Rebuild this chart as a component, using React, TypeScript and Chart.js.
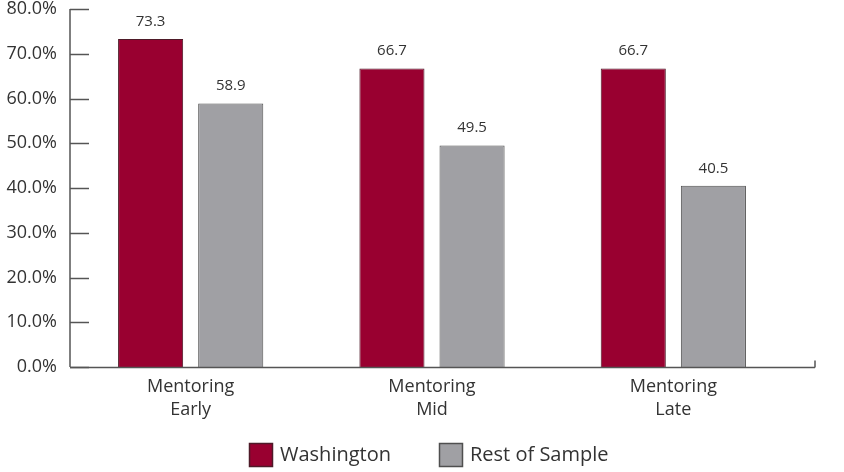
import React, { useEffect, useRef } from "react";
import { Chart, registerables } from "chart.js";

Chart.register(...registerables);

const categories: string[][] = [
  ["Mentoring", "Early"],
  ["Mentoring", "Mid"],
  ["Mentoring", "Late"],
];
const washington: number[] = [73.3, 66.7, 66.7];
const restOfSample: number[] = [58.9, 49.5, 40.5];
const seriesNames: string[] = ["Washington", "Rest of Sample"];

const FONT = "'Open Sans', 'DejaVu Sans', sans-serif";
const TEXT = "#333333";
const AXIS = "#555555";

// Axis lines with inward tick marks, value labels and a bottom legend.
const decorations = {
  id: "decorations",
  afterDatasetsDraw(chart: any) {
    const { ctx, chartArea } = chart;
    const y = chart.scales.y;
    ctx.save();
    ctx.strokeStyle = AXIS;
    ctx.lineWidth = 1.5;
    // y axis
    ctx.beginPath();
    ctx.moveTo(chartArea.left, y.getPixelForValue(80));
    ctx.lineTo(chartArea.left, chartArea.bottom);
    ctx.stroke();
    // y ticks pointing into the plot
    y.ticks.forEach((t: any) => {
      const py = Math.round(y.getPixelForValue(t.value)) + 0.5;
      ctx.beginPath();
      ctx.moveTo(chartArea.left, py);
      ctx.lineTo(chartArea.left + 19, py);
      ctx.stroke();
    });
    // x axis, running a little past the last category
    const bx = Math.round(chartArea.bottom) + 0.5;
    const endX = chartArea.right + 21;
    ctx.beginPath();
    ctx.moveTo(chartArea.left, bx);
    ctx.lineTo(endX, bx);
    ctx.moveTo(endX, bx);
    ctx.lineTo(endX, bx - 7);
    ctx.stroke();

    // value labels above bars
    ctx.fillStyle = TEXT;
    ctx.font = `15px ${FONT}`;
    ctx.textAlign = "center";
    ctx.textBaseline = "bottom";
    chart.data.datasets.forEach((ds: any, di: number) => {
      const meta = chart.getDatasetMeta(di);
      meta.data.forEach((bar: any, i: number) => {
        ctx.fillText(ds.data[i].toFixed(1), bar.x, bar.y - 10);
      });
    });

    // legend
    const boxSize = 24;
    const cy = 455;
    const starts = [249, 439];
    ctx.font = `20px ${FONT}`;
    ctx.textAlign = "left";
    ctx.textBaseline = "middle";
    chart.data.datasets.forEach((ds: any, di: number) => {
      const x0 = starts[di];
      ctx.fillStyle = ds.backgroundColor;
      ctx.fillRect(x0, cy - boxSize / 2, boxSize, boxSize);
      ctx.strokeStyle = ds.borderColor;
      ctx.lineWidth = 1.5;
      ctx.strokeRect(x0 + 0.5, cy - boxSize / 2 + 0.5, boxSize - 1, boxSize - 1);
      ctx.fillStyle = TEXT;
      ctx.fillText(ds.label, x0 + boxSize + 7, cy);
    });
    ctx.restore();
  },
};

export default function App() {
  const canvasRef = useRef<HTMLCanvasElement | null>(null);

  useEffect(() => {
    document.body.style.margin = "0";
    const canvas = canvasRef.current;
    if (!canvas) return;
    const chart = new Chart(canvas, {
      type: "bar",
      data: {
        labels: categories,
        datasets: [
          {
            label: seriesNames[0],
            data: washington,
            backgroundColor: "#990030",
            borderColor: "#4e1a28",
            borderWidth: 1,
            barPercentage: 0.8125,
            categoryPercentage: 0.664,
          },
          {
            label: seriesNames[1],
            data: restOfSample,
            backgroundColor: "#a0a0a4",
            borderColor: "#4f4f4f",
            borderWidth: 1,
            barPercentage: 0.8125,
            categoryPercentage: 0.664,
          },
        ],
      },
      options: {
        animation: false,
        responsive: false,
        layout: { padding: { top: 9, right: 50, bottom: 0, left: 0 } },
        plugins: {
          legend: { display: false },
          tooltip: { enabled: false },
        },
        scales: {
          x: {
            grid: { display: false, drawTicks: false },
            border: { display: false },
            ticks: {
              color: TEXT,
              font: { family: FONT, size: 18, lineHeight: 1.28 },
              padding: 8,
              maxRotation: 0,
            },
            afterFit: (s: any) => {
              s.height = 105;
              s.paddingLeft = 0;
              s.paddingRight = 0;
            },
          },
          y: {
            min: 0,
            max: 80,
            grid: { display: false, drawTicks: false },
            border: { display: false },
            ticks: {
              stepSize: 10,
              color: TEXT,
              font: { family: FONT, size: 18 },
              padding: 13,
              callback: (v: any) => Number(v).toFixed(1) + "%",
            },
            afterFit: (s: any) => {
              s.width = 70;
              s.paddingTop = 0;
              s.paddingBottom = 0;
            },
          },
        },
      },
      plugins: [decorations],
    });
    return () => chart.destroy();
  }, []);

  return (
    <div style={{ position: "fixed", left: 0, top: 0, width: 844, height: 472, background: "#fff" }}>
      <canvas ref={canvasRef} width={844} height={472} />
    </div>
  );
}
